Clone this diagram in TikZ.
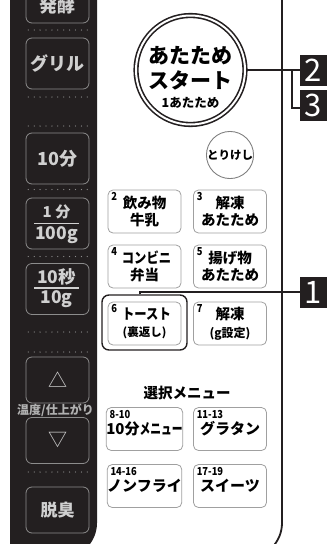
\documentclass[tikz,border=0pt]{standalone}
\usepackage{fontspec}
\setmainfont{Noto Sans CJK JP}
\newfontfamily\jpnarrow{Noto Sans CJK JP}[FakeStretch=0.72]
\newfontfamily\jpsmall{Noto Sans CJK JP}[FakeStretch=0.85]
\usetikzlibrary{calc}
\definecolor{panel}{HTML}{231F20}
\definecolor{keytext}{HTML}{D0D0D0}
\definecolor{keyedge}{HTML}{8C8C8C}
\definecolor{menuedge}{HTML}{A0A0A0}
\newcommand{\fs}[1]{\fontsize{#1}{#1}\selectfont}
\newcommand{\menubtn}[5]{%
  % node name, x, y, small number, key text.
  \node[menukey] (#1) at (#2,#3) {#5};
  \node[keynum] at ($(#1.north west)+(3.5,3)$) {#4};
}
\tikzset{
  key/.style={draw=keyedge,line width=0.8pt,rounded corners=6pt,minimum width=63pt,
    minimum height=51pt,inner sep=0pt},
  keytxt/.style={text=keytext,font=\bfseries\fs{18},inner sep=0pt},
  menukey/.style={draw=menuedge,fill=white,line width=0.8pt,rounded corners=5pt,
    minimum width=73pt,minimum height=43pt,inner sep=0pt,align=center,
    font=\bfseries\fontsize{14.5}{17.5}\selectfont},
  keynum/.style={anchor=north west,inner sep=0pt,font=\bfseries\jpsmall\fs{11}},
  tag/.style={fill=panel,text=white,minimum width=27.5pt,minimum height=31pt,
    inner sep=0pt,font=\fs{31}},
  callout/.style={draw=panel,line width=2.4pt},
  dotline/.style={draw=keyedge,line width=1.3pt,line cap=round,dash pattern=on 0pt off 5.9pt}
}

\begin{document}
\begin{tikzpicture}[x=1pt,y=-1pt]
  \useasboundingbox (0,0) rectangle (335,544);
  \clip (0,0) rectangle (335,544);
  % dark key column and panel edge
  \fill[panel] (10,-10) -- (97,-10) [rounded corners=35pt] -- (97,558) [sharp corners] -- (10,558) -- cycle;
  \draw[panel,line width=1.8pt] (282,-10) [rounded corners=35pt] -- (282,558) -- (200,558);
  \foreach \y in {30,97,126,189.5,256.5,332,352,472}{\draw[dotline] (28.3,\y) -- (87.5,\y);}

  % left keys
  \node[key] (ferment) at (57.5,-2.5) {};
  \node[keytxt] at ($(ferment.south)+(0,-18)$) {発酵};
  \foreach \name/\y/\txt in {grill/63.5/グリル,min10/158.5/10分}{
    \node[key] (\name) at (57.5,\y) {};
    \node[keytxt] at (\name) {\txt};
  }
  \node[key] (min1) at (57.5,223.5) {};
  \node[keytxt,font=\bfseries\fs{15}] at (56.5,211.5) {1 分};
  \node[keytxt,font=\bfseries\fs{17.5}] at (56.5,235.5) {100g};
  \draw[keytext,line width=1.3pt] (34,223.5) -- (79,223.5);
  \node[key] (sec10) at (57.5,289) {};
  \node[keytxt,font=\bfseries\fs{17.5}] at (56.5,276.5) {10秒};
  \node[keytxt,font=\bfseries\fs{17.5}] at (56.5,299.5) {10g};
  \draw[keytext,line width=1.3pt] (34,288) -- (79,288);
  \node[key,minimum height=46pt] (up) at (57.5,380) {};
  \node[keytxt,font=\fs{19}] at (up) {△};
  \node[key,minimum height=46pt] (down) at (57.5,440.5) {};
  \node[keytxt,font=\fs{19}] at (down) {▽};
  \node[keytxt,text=keytext!85!black,font=\bfseries\fs{12}] (temp) at (55.5,410.5) {温度/仕上がり};
  \node[key,minimum height=46pt] (deodor) at (57.5,510) {};
  \node[keytxt,font=\bfseries\fs{17}] at (deodor) {脱臭};

  % start and cancel
  \node[circle,draw=panel,double=white,double distance=2pt,line width=1.6pt,minimum size=109pt] (start) at (190.5,70) {};
  \node[font=\bfseries\fs{21},inner sep=0pt] at (190.5,56) {あたため};
  \node[font=\bfseries\fs{21},inner sep=0pt] at (190.5,80) {スタート};
  \node[font=\bfseries\fs{12.5},inner sep=0pt] at (190.5,102.5) {1あたため};
  \node[circle,draw=gray,line width=0.9pt,minimum size=46pt,inner sep=0pt,font=\bfseries\fs{11.5}] (cancel) at (230,155) {とりけし};

  % menu keys
  \node[draw=panel,line width=1.4pt,rounded corners=7pt,minimum width=85pt,minimum height=55pt] (hl) at (144.5,322.5) {};
  \menubtn{drink}{144.5}{211.5}{2}{飲み物\\牛乳}
  \menubtn{thaw}{230}{211.5}{3}{解凍\\あたため}
  \menubtn{bento}{144.5}{266.5}{4}{\hspace*{4pt}{\jpsmall コンビニ}\\弁当}
  \menubtn{fried}{230}{266.5}{5}{揚げ物\\あたため}
  \menubtn{toast}{144.5}{323.5}{6}{\hspace*{4pt}{\jpsmall トースト}\\{\fs{11.5}(裏返し)}}
  \menubtn{thawg}{230}{323.5}{7}{解凍\\{\fs{12}(g設定)}}
  \node[font=\bfseries\fs{14.5},inner sep=0pt] (select) at (187,393) {選択メニュー};
  \menubtn{tenmin}{144.5}{429}{8-10}{\fs{15}10分{\jpnarrow メニュー}}
  \menubtn{gratin}{230}{429}{11-13}{\fs{15}グラタン}
  \menubtn{nonfry}{144.5}{486}{14-16}{\fs{15}ノンフライ}
  \menubtn{sweets}{230}{486}{17-19}{\fs{15}スイーツ}

  % callouts
  \node[tag] (tag2) at (313.5,70) {2};
  \node[tag] (tag3) at (313.5,105) {3};
  \node[tag] (tag1) at (313.5,292) {1};
  \coordinate (fork) at (292,70);
  \draw[callout] (start.east) -- (start.east -| tag2.west);
  \draw[callout] (fork) |- ([yshift=-3pt]tag3.west);
  \draw[callout] ([xshift=-4.5pt]hl.north) |- (tag1.west);
\end{tikzpicture}
\end{document}
